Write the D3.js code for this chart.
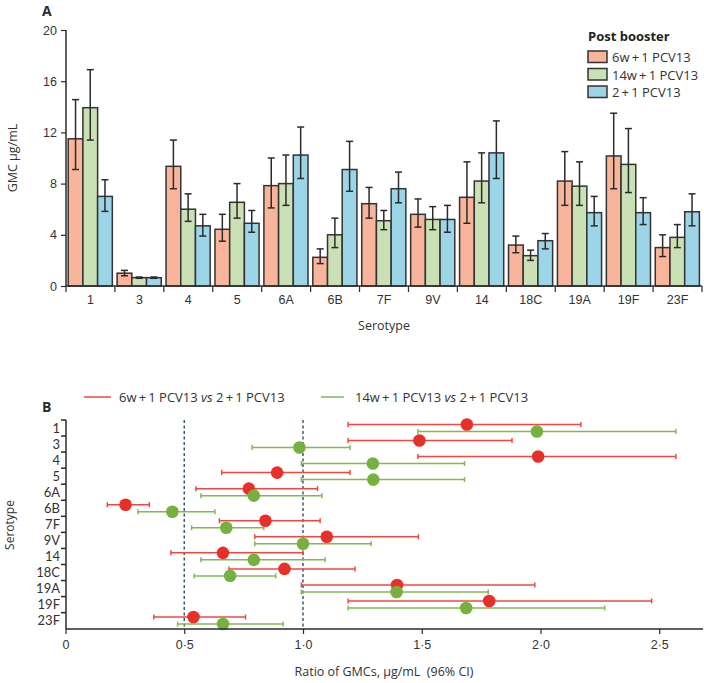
<!DOCTYPE html>
<html><head><meta charset="utf-8">
<script src="https://cdn.jsdelivr.net/npm/d3@7"></script>
<style>
body{margin:0;background:#fff;}
svg{font-family:"Open Sans","Noto Sans",sans-serif;}
</style></head>
<body><svg id="c" width="704" height="683"></svg>
<script>
// ---------- Panel A data ----------
const serotypes = ["1","3","4","5","6A","6B","7F","9V","14","18C","19A","19F","23F"];
const groupsA = ["6w\u2009+\u20091 PCV13","14w\u2009+\u20091 PCV13","2\u2009+\u20091 PCV13"];
const gmc6w  = [11.5,1.0,9.35,4.43,7.84,2.24,6.43,5.6,6.93,3.2,8.2,10.16,3.0];
const lo6w   = [9.1,0.8,7.6,3.5,6.1,1.75,5.3,4.6,4.9,2.6,6.3,7.6,2.3];
const hi6w   = [14.56,1.22,11.4,5.6,10.0,2.9,7.7,6.8,9.7,3.9,10.5,13.5,4.0];
const gmc14w = [13.93,0.65,6.0,6.54,8.0,4.0,5.1,5.2,8.2,2.37,7.8,9.5,3.8];
const lo14w  = [11.4,0.6,5.05,5.3,6.3,3.0,4.4,4.4,6.5,2.0,6.3,7.3,3.0];
const hi14w  = [16.9,0.7,7.2,8.0,10.23,5.3,5.9,6.2,10.4,2.8,9.7,12.3,4.8];
const gmc21  = [7.0,0.65,4.7,4.9,10.23,9.1,7.6,5.2,10.4,3.54,5.73,5.73,5.8];
const lo21   = [5.83,0.6,3.9,4.2,8.4,7.4,6.5,4.2,8.4,2.9,4.7,4.8,4.7];
const hi21   = [8.3,0.7,5.6,5.9,12.42,11.3,8.9,6.3,12.9,4.1,7.0,6.9,7.2];
const yTicksA = [0,4,8,12,16,20];

// ---------- Panel B data ----------
const ratioNames = ["6w\u2009+\u20091 PCV13","14w\u2009+\u20091 PCV13"];
const ratio6w = [1.69,1.49,1.99,0.891,0.772,0.253,0.842,1.10,0.663,0.922,1.396,1.784,0.539];
const rlo6w   = [1.19,1.19,1.484,0.658,0.549,0.176,0.648,0.797,0.444,0.688,0.993,1.19,0.372];
const rhi6w   = [2.17,1.88,2.57,1.198,1.061,0.353,1.072,1.486,1.0,1.219,1.976,2.468,0.758];
const ratio14w= [1.985,0.985,1.294,1.296,0.793,0.45,0.677,1.0,0.793,0.693,1.394,1.687,0.663];
const rlo14w  = [1.484,0.786,0.993,0.993,0.570,0.305,0.531,0.797,0.570,0.542,0.993,1.19,0.472];
const rhi14w  = [2.57,1.198,1.68,1.68,1.08,0.629,0.835,1.287,1.093,0.885,1.78,2.27,0.916];
const xTicksB = [0,0.5,1.0,1.5,2.0,2.5];
const refLines = [0.5,1.0];

const svg = d3.select("#c");
const fmt = d => d3.format(".1f")(d).replace(".","\u00b7");
const fmtB = d => d===0 ? "0" : fmt(d);
const ink = "#2b2b2b";
const colsA = ["#f8b59b","#cae1b5","#9dd5e8"];

// ===== Panel A =====
const xA = d3.scaleBand().domain(serotypes).range([66,702]).padding(0);
const x1 = d3.scaleBand().domain([0,1,2]).range([2.2, xA.bandwidth()-2.6]).padding(0);
const yA = d3.scaleLinear().domain([0,20]).range([286,30]);

svg.append("text").attr("x",42).attr("y",15.5).attr("font-size",14).attr("font-weight","bold").attr("fill",ink).text("A");

const seriesA = [
  {v:gmc6w, lo:lo6w, hi:hi6w},
  {v:gmc14w, lo:lo14w, hi:hi14w},
  {v:gmc21, lo:lo21, hi:hi21}
];
const gA = svg.append("g");
seriesA.forEach((s,si)=>{
  serotypes.forEach((c,i)=>{
    const x = xA(c)+x1(si), w = x1.bandwidth();
    gA.append("rect").attr("x",x).attr("y",yA(s.v[i])).attr("width",w).attr("height",yA(0)-yA(s.v[i]))
      .attr("fill",colsA[si]).attr("stroke","#333").attr("stroke-width",1.5);
  });
});
seriesA.forEach((s,si)=>{
  serotypes.forEach((c,i)=>{
    const cx = xA(c)+x1(si)+x1.bandwidth()/2;
    gA.append("line").attr("x1",cx).attr("x2",cx).attr("y1",yA(s.hi[i])).attr("y2",yA(s.lo[i])).attr("stroke",ink).attr("stroke-width",1.5);
    [s.hi[i],s.lo[i]].forEach(v=>gA.append("line").attr("x1",cx-3.5).attr("x2",cx+3.5).attr("y1",yA(v)).attr("y2",yA(v)).attr("stroke",ink).attr("stroke-width",1.5));
  });
});

// y axis A
const yAxA = svg.append("g").attr("transform","translate(66,0)")
  .call(d3.axisLeft(yA).tickValues(yTicksA).tickSize(5).tickPadding(4).tickFormat(d3.format("d")));
yAxA.select(".domain").attr("stroke",ink).attr("stroke-width",1.5).attr("d","M0,30V286");
yAxA.selectAll(".tick line").attr("stroke",ink).attr("stroke-width",1.2);
yAxA.selectAll("text").attr("font-size",12.5).attr("fill","#333").attr("font-family","inherit");

// x axis A
const xAxA = svg.append("g").attr("transform","translate(0,286)")
  .call(d3.axisBottom(xA).tickSize(0).tickPadding(9));
xAxA.select(".domain").attr("stroke",ink).attr("stroke-width",1.5).attr("d","M66,0H702");
xAxA.selectAll("text").attr("font-size",12.5).attr("fill","#333").attr("font-family","inherit");
serotypes.forEach(c=>{
  xAxA.append("line").attr("x1",xA(c)).attr("x2",xA(c)).attr("y1",0).attr("y2",6).attr("stroke",ink).attr("stroke-width",1.2);
});
xAxA.append("line").attr("x1",702).attr("x2",702).attr("y1",0).attr("y2",6).attr("stroke",ink).attr("stroke-width",1.2);

svg.append("text").attr("transform","translate(17,158) rotate(-90)").attr("text-anchor","middle")
  .attr("font-size",12.5).attr("fill","#333").text("GMC \u00b5g/mL");
svg.append("text").attr("x",384).attr("y",330).attr("text-anchor","middle")
  .attr("font-size",12.5).attr("fill","#333").text("Serotype");

// legend A
const lg = svg.append("g");
lg.append("text").attr("x",588).attr("y",41).attr("font-size",13).attr("font-weight","bold").attr("fill","#222").text("Post booster");
groupsA.forEach((g,i)=>{
  const y = 51 + i*17.5;
  lg.append("rect").attr("x",588).attr("y",y).attr("width",19).attr("height",11.5).attr("fill",colsA[i]).attr("stroke","#333").attr("stroke-width",1.5);
  lg.append("text").attr("x",612).attr("y",y+11).attr("font-size",13).attr("fill","#333").text(g);
});

// ===== Panel B =====
const xB = d3.scaleLinear().domain([0,1]).range([65.5,303]);
const yB = d3.scaleBand().domain(serotypes).range([420,628.7]).padding(0);
const red = "#e8302a", redL = "#ec4a40", green = "#76b041", greenL = "#7fba50";

svg.append("text").attr("x",42).attr("y",412).attr("font-size",14).attr("font-weight","bold").attr("fill",ink).text("B");

// legend B
const lgB = svg.append("g");
[[84,111,119,redL,0],[321,344,355,greenL,1]].forEach(([a,b,t,col,i])=>{
  lgB.append("line").attr("x1",a).attr("x2",b).attr("y1",397).attr("y2",397).attr("stroke",col).attr("stroke-width",1.5);
  const tx = lgB.append("text").attr("x",t).attr("y",402).attr("font-size",13).attr("fill","#333");
  tx.append("tspan").text(ratioNames[i]+" ");
  tx.append("tspan").attr("font-style","italic").text("vs");
  tx.append("tspan").text(" 2\u2009+\u20091 PCV13");
});

// reference lines
refLines.forEach(r=>{
  svg.append("line").attr("x1",xB(r)).attr("x2",xB(r)).attr("y1",420).attr("y2",628.7)
    .attr("stroke","#3d5a6c").attr("stroke-width",1.5).attr("stroke-dasharray","3,2.5");
});

const seriesB = [
  {v:ratio6w, lo:rlo6w, hi:rhi6w, off:-3.6, c:red, cl:redL},
  {v:ratio14w, lo:rlo14w, hi:rhi14w, off:3.4, c:green, cl:greenL}
];
const gB = svg.append("g");
seriesB.forEach(s=>{
  serotypes.forEach((c,i)=>{
    const y = yB(c)+yB.bandwidth()/2+s.off;
    gB.append("line").attr("x1",xB(s.lo[i])).attr("x2",xB(s.hi[i])).attr("y1",y).attr("y2",y).attr("stroke",s.cl).attr("stroke-width",1.5);
    [s.lo[i],s.hi[i]].forEach(v=>gB.append("line").attr("x1",xB(v)).attr("x2",xB(v)).attr("y1",y-2.5).attr("y2",y+2.5).attr("stroke",s.cl).attr("stroke-width",1.5));
  });
});
seriesB.forEach(s=>{
  serotypes.forEach((c,i)=>{
    const y = yB(c)+yB.bandwidth()/2+s.off;
    gB.append("circle").attr("cx",xB(s.v[i])).attr("cy",y).attr("r",6.3).attr("fill",s.c);
  });
});

// y axis B
const yAxB = svg.append("g");
yAxB.append("line").attr("x1",66).attr("x2",66).attr("y1",420).attr("y2",629).attr("stroke",ink).attr("stroke-width",1.5);
serotypes.forEach(c=>{
  yAxB.append("line").attr("x1",61).attr("x2",66).attr("y1",yB(c)).attr("y2",yB(c)).attr("stroke",ink).attr("stroke-width",1.5);
  yAxB.append("text").attr("x",60).attr("y",yB(c)+yB.bandwidth()/2+4.5).attr("text-anchor","end")
    .attr("font-family","Lato, 'Open Sans', sans-serif")
    .attr("font-size",13).attr("fill","#333").text(c);
});

// x axis B
const xAxB = svg.append("g").attr("transform","translate(0,629)")
  .call(d3.axisBottom(xB).tickValues(xTicksB).tickSize(5).tickPadding(6).tickFormat(fmtB));
xAxB.select(".domain").attr("stroke",ink).attr("stroke-width",1.5).attr("d","M66,0H703");
xAxB.selectAll(".tick line").attr("stroke",ink).attr("stroke-width",1.2);
xAxB.selectAll("text").attr("font-size",12.5).attr("fill","#333").attr("font-family","inherit");

svg.append("text").attr("transform","translate(13.5,525) rotate(-90)").attr("text-anchor","middle")
  .attr("font-size",12).attr("fill","#333").text("Serotype");
svg.append("text").attr("x",384).attr("y",676).attr("text-anchor","middle")
  .attr("font-size",12.5).attr("fill","#333").attr("xml:space","preserve").text("Ratio of GMCs, \u00b5g/mL  (96% CI)");
</script></body></html>
